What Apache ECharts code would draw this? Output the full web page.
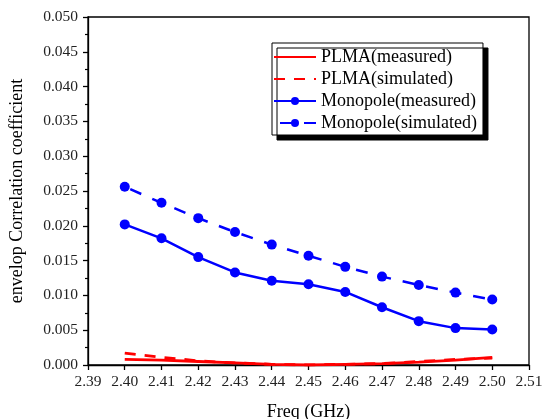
<!DOCTYPE html>
<html>
<head>
<meta charset="utf-8">
<script src="https://cdn.jsdelivr.net/npm/echarts@6/dist/echarts.min.js"></script>
<style>
  html, body { margin: 0; padding: 0; background: #fff; }
  #chart { width: 543px; height: 419px; }
</style>
</head>
<body>
<div id="chart"></div>
<script>
// Frequency points (GHz)
var freq = [2.40, 2.41, 2.42, 2.43, 2.44, 2.45, 2.46, 2.47, 2.48, 2.49, 2.50];

// Envelope correlation coefficient per antenna
var plmaMeasured   = [0.0008, 0.0007, 0.0005, 0.0003, 0.0001, 0.0000, 0.0001, 0.0002, 0.0004, 0.0007, 0.0011];
var plmaSimulated  = [0.0017, 0.0011, 0.0006, 0.0003, 0.0001, 0.0000, 0.0001, 0.0002, 0.0005, 0.0008, 0.0010];
var monoMeasured   = [0.0202, 0.0182, 0.0155, 0.0133, 0.0121, 0.0116, 0.0105, 0.0083, 0.0063, 0.0053, 0.0051];
var monoSimulated  = [0.0256, 0.0233, 0.0211, 0.0191, 0.0173, 0.0157, 0.0141, 0.0127, 0.0115, 0.0104, 0.0094];

var seriesNames = ['PLMA(measured)', 'PLMA(simulated)', 'Monopole(measured)', 'Monopole(simulated)'];

function pairs(values) {
  return freq.map(function (f, i) { return [f, values[i]]; });
}

var serif = '"Liberation Serif", "DejaVu Serif", serif';
// PLMA curves are plain lines, so their legend entries hide the marker
var noMarker = { color: 'rgba(0,0,0,0)', borderWidth: 0 };

var chart = echarts.init(document.getElementById('chart'));
chart.setOption({
  animation: false,
  backgroundColor: '#fff',
  grid: {
    left: 88, right: 14, top: 17, bottom: 54,
    outerBoundsMode: 'none',
    show: true, borderColor: '#000', borderWidth: 1.3, backgroundColor: 'transparent'
  },
  legend: {
    orient: 'vertical',
    left: 272, top: 43,
    data: [
      { name: seriesNames[0], itemStyle: noMarker },
      { name: seriesNames[1], itemStyle: noMarker },
      { name: seriesNames[2] },
      { name: seriesNames[3] }
    ],
    itemWidth: 42, itemHeight: 10, itemGap: 4,
    padding: [5, 6, 3, 1],
    backgroundColor: '#fff',
    borderColor: '#000', borderWidth: 1,
    shadowColor: '#000', shadowOffsetX: 5, shadowOffsetY: 5, shadowBlur: 0,
    textStyle: { fontFamily: serif, fontSize: 18, color: '#000' }
  },
  xAxis: {
    type: 'value', min: 2.39, max: 2.51, interval: 0.01,
    name: 'Freq (GHz)', nameLocation: 'middle', nameGap: 38,
    nameTextStyle: { fontFamily: serif, fontSize: 18, color: '#000' },
    axisLine: { onZero: false, lineStyle: { color: '#000', width: 1.3 } },
    axisTick: { inside: false, length: 5, lineStyle: { color: '#000', width: 1.3 } },
    axisLabel: { fontFamily: serif, fontSize: 15.5, color: '#222', margin: 9,
      formatter: function (v) { return v.toFixed(2); } },
    splitLine: { show: false }
  },
  yAxis: {
    type: 'value', min: 0, max: 0.05, interval: 0.005,
    name: 'envelop Correlation coefficient', nameLocation: 'middle', nameGap: 62,
    nameTextStyle: { fontFamily: serif, fontSize: 18, color: '#000' },
    axisLine: { lineStyle: { color: '#000', width: 1.3 } },
    axisTick: { inside: false, length: 5, lineStyle: { color: '#000', width: 1.3 } },
    minorTick: { show: true, splitNumber: 2, length: 3, lineStyle: { color: '#000', width: 1.2 } },
    axisLabel: { fontFamily: serif, fontSize: 15.5, color: '#222', margin: 10,
      formatter: function (v) { return v.toFixed(3); } },
    splitLine: { show: false }
  },
  series: [
    {
      name: seriesNames[0], type: 'line', data: pairs(plmaMeasured),
      showSymbol: false, symbol: 'none', z: 3,
      lineStyle: { color: '#ff0000', width: 2.8 }, itemStyle: { color: '#ff0000' }
    },
    {
      name: seriesNames[1], type: 'line', data: pairs(plmaSimulated),
      showSymbol: false, symbol: 'none', z: 3,
      lineStyle: { color: '#ff0000', width: 2.8, type: [11, 9] }, itemStyle: { color: '#ff0000' }
    },
    {
      name: seriesNames[2], type: 'line', data: pairs(monoMeasured),
      symbol: 'circle', symbolSize: 10,
      lineStyle: { color: '#0000ff', width: 2.5 }, itemStyle: { color: '#0000ff' }
    },
    {
      name: seriesNames[3], type: 'line', data: pairs(monoSimulated),
      symbol: 'circle', symbolSize: 10,
      lineStyle: { color: '#0000ff', width: 2.5, type: [12, 12], dashOffset: -6 }, itemStyle: { color: '#0000ff' }
    }
  ]
});
</script>
</body>
</html>
